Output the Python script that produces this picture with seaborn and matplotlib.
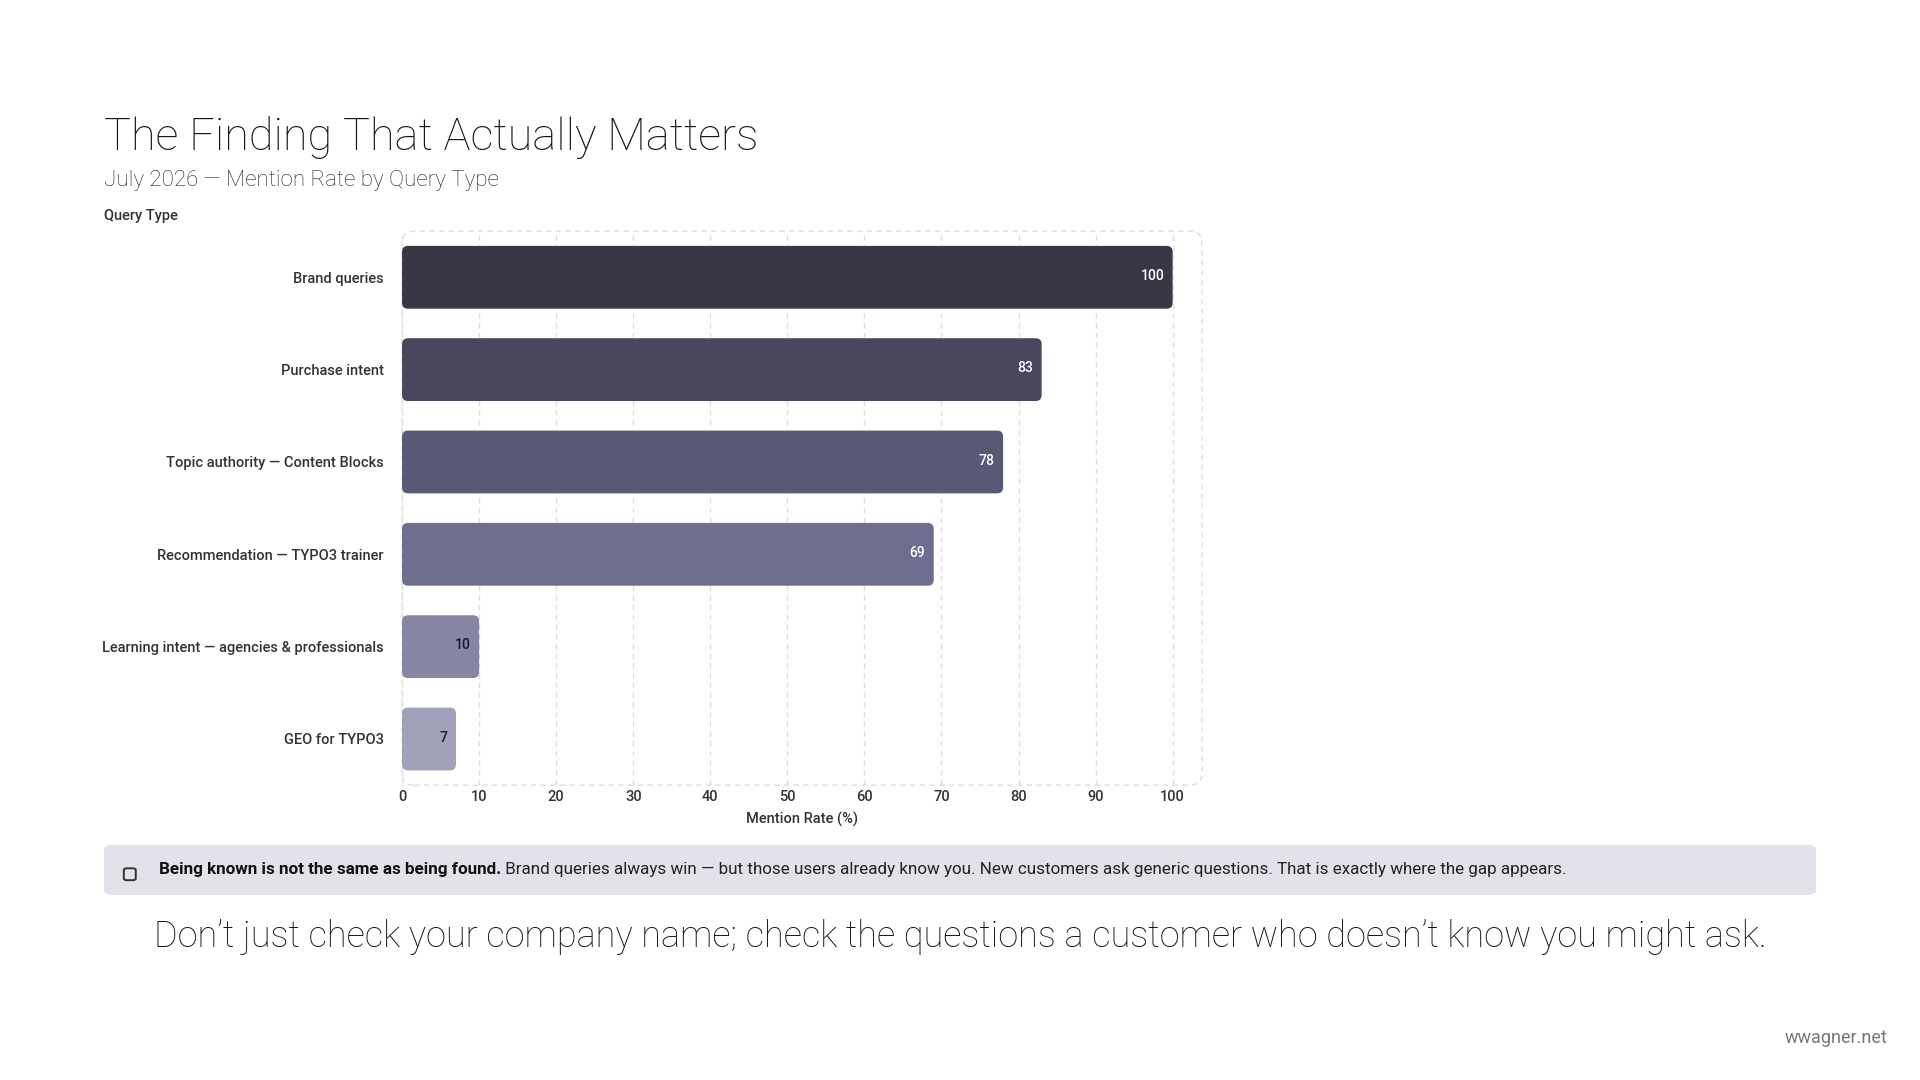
import matplotlib
matplotlib.use("Agg")
import matplotlib.pyplot as plt
from matplotlib.patches import FancyBboxPatch
import seaborn as sns

categories = [
    "Brand queries",
    "Purchase intent",
    "Topic authority \u2014 Content Blocks",
    "Recommendation \u2014 TYPO3 trainer",
    "Learning intent \u2014 agencies & professionals",
    "GEO for TYPO3",
]
mention_rate = [100, 83, 78, 69, 10, 7]
bar_colors = ["#343449", "#45445f", "#55547a", "#686894", "#8281a8", "#9e9dbe"]
label_colors = ["white", "white", "white", "white", "#1c1c28", "#1c1c28"]
x_ticks = [0, 10, 20, 30, 40, 50, 60, 70, 80, 90, 100]

sns.set_theme(style="white")
plt.rcParams["font.family"] = ["Roboto", "DejaVu Sans"]
head_font = ["Roboto", "DejaVu Sans"]

fig = plt.figure(figsize=(19.2, 10.8), dpi=100, facecolor="white")
ax = fig.add_axes([0.2094, 0.273, 0.4166, 0.513])

sns.barplot(x=mention_rate, y=categories, hue=categories, palette=bar_colors,
            orient="h", width=0.68, legend=False, ax=ax)

ax.set_xlim(0, 103.8)
ax.set_ylim(5.5, -0.5)

# swap the square bars for rounded ones
fig.canvas.draw()
px_per_x = ax.transData.transform((1, 0))[0] - ax.transData.transform((0, 0))[0]
px_per_y = abs(ax.transData.transform((0, 1))[1] - ax.transData.transform((0, 0))[1])
r = 6 / px_per_x
for p in list(ax.patches):
    x0, y0 = p.get_x(), p.get_y()
    w, h = p.get_width(), p.get_height()
    fc = p.get_facecolor()
    p.remove()
    ax.add_patch(FancyBboxPatch((x0, y0), w, h,
                                boxstyle=f"round,pad=0,rounding_size={r}",
                                mutation_aspect=px_per_x / px_per_y,
                                fc=fc, ec="none", zorder=3))

for i, v in enumerate(mention_rate):
    ax.annotate(str(v), xy=(v, i), xytext=(-6, 1), textcoords="offset points",
                ha="right", va="center", fontsize=10, fontweight="medium",
                color=label_colors[i], zorder=4)

ax.set_xticks(x_ticks)
ax.grid(axis="x", linestyle=(0, (4, 3)), color="#dedede", linewidth=1, zorder=0)
for s in ax.spines.values():
    s.set_visible(False)
ax.add_patch(FancyBboxPatch((0, 0), 1, 1, transform=ax.transAxes,
                            boxstyle="round,pad=0,rounding_size=0.015",
                            mutation_aspect=800 / 554,
                            fc="none", ec="#dedede", lw=1,
                            linestyle=(0, (4, 3)), clip_on=False, zorder=1))

ax.tick_params(axis="y", length=7, width=1, color="#d0d0d0", pad=6,
               labelsize=10.5, labelcolor="#333333")
ax.tick_params(axis="x", length=0, pad=3.5, labelsize=10.5, labelcolor="#333333")
for t in ax.get_yticklabels() + ax.get_xticklabels():
    t.set_fontweight("medium")
ax.set_ylabel("")
ax.set_xlabel("Mention Rate (%)", fontsize=10.5, color="#333333",
              fontweight="medium", labelpad=5.5)

# header texts
fig.text(0.0542, 0.861, "The Finding That Actually Matters", fontsize=32.5,
         family=head_font, fontweight="light", color="#14141c", va="baseline")
fig.text(0.0542, 0.828, "July 2026 \u2014 Mention Rate by Query Type", fontsize=16.1,
         family=head_font, fontweight="light", color="#222222", va="baseline")
fig.text(0.0542, 0.8, "Query Type", fontsize=10.5, fontweight="medium",
         color="#333333", va="center")

# callout box
fig.patches.append(FancyBboxPatch((0.0542, 0.1715), 0.8917, 0.046,
                                  boxstyle="round,pad=0,rounding_size=0.004",
                                  transform=fig.transFigure,
                                  fc="#e2e2ea", ec="none"))
fig.patches.append(FancyBboxPatch((0.0645, 0.185), 0.0062, 0.011,
                                  boxstyle="round,pad=0,rounding_size=0.0015",
                                  transform=fig.transFigure,
                                  fc="none", ec="#333333", lw=1.4))
bold = fig.text(0.0828, 0.195, "Being known is not the same as being found.",
                fontsize=12.25, fontweight="bold", color="#111111", va="center")
fig.canvas.draw()
bb = bold.get_window_extent()
fig.text(bb.x1 / fig.bbox.width, 0.195,
         " Brand queries always win \u2014 but those users already know you. "
         "New customers ask generic questions. That is exactly where the gap appears.",
         fontsize=12.25, color="#222222", va="center")

fig.text(0.5, 0.123,
         "Don\u2019t just check your company name; check the questions a customer "
         "who doesn\u2019t know you might ask.",
         fontsize=26, family=head_font, fontweight="light", color="#14141c",
         ha="center", va="baseline")

fig.text(0.983, 0.039, "wwagner.net", fontsize=13, color="#777777",
         ha="right", va="center")

fig.savefig("out.png", dpi=100, facecolor="white")
